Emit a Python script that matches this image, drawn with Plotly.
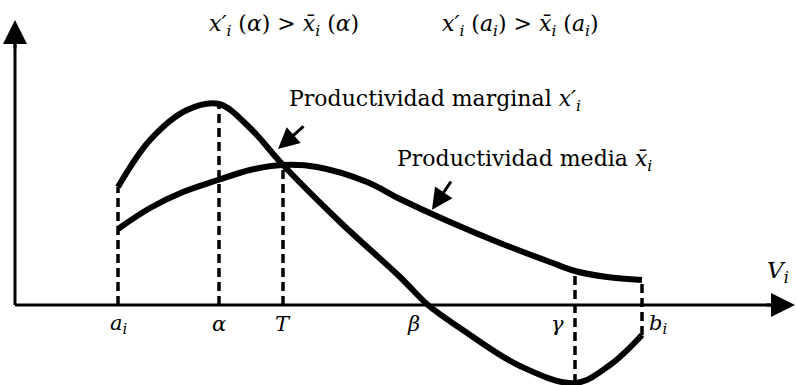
import numpy as np
import plotly.graph_objects as go

# Positions along the V_i axis
tick_names = ["a_i", "alpha", "T", "beta", "gamma", "b_i"]
tick_vals = [10.3, 20.4, 26.8, 41.3, 56.0, 62.7]

# Marginal productivity x'_i
marg_x = [10.3, 13.5, 17.2, 20.4, 23.5, 26.8, 32.5, 38.5, 41.3, 44.5,
          50.5, 56.0, 59.5, 62.7]
marg_y = [11.8, 16.5, 19.5, 20.1, 17.7, 14.0, 8.3, 2.8, 0.0, -2.3,
          -6.1, -7.8, -6.0, -3.0]

# Average productivity x̄_i
avg_x = [10.3, 13.5, 16.8, 20.3, 23.5, 26.8, 30.2, 35.2, 38.5, 43.5,
         48.5, 53.5, 56.0, 59.2, 62.7]
avg_y = [7.6, 9.7, 11.3, 12.5, 13.5, 14.0, 13.8, 12.3, 10.6, 8.3,
         6.2, 4.3, 3.4, 2.8, 2.5]

x_max, y_max = 78.0, 28.5

SERIF = "DejaVu Serif"
BLACK = "black"

fig = go.Figure()

for xs, ys in ((marg_x, marg_y), (avg_x, avg_y)):
    fig.add_trace(go.Scatter(x=xs, y=ys, mode="lines",
                             line=dict(color=BLACK, width=6, shape="spline", smoothing=1.0),
                             hoverinfo="skip", showlegend=False))


def marg(v):
    return float(np.interp(v, marg_x, marg_y))


def avg(v):
    return float(np.interp(v, avg_x, avg_y))


a_i, alpha, T, beta, gamma, b_i = tick_vals

# Dashed guide lines
guides = [
    (a_i, 0.0, marg(a_i)),
    (alpha, 0.0, marg(alpha)),
    (T, 0.0, marg(T)),
    (gamma, marg(gamma), avg(gamma)),
    (b_i, marg(b_i), avg(b_i)),
]
for gx, y0, y1 in guides:
    fig.add_shape(type="line", x0=gx, x1=gx, y0=y0, y1=y1, xref="x", yref="y",
                  line=dict(color=BLACK, width=3.5, dash="9px,5px"))

# Coordinate axes with arrows
fig.add_shape(type="line", x0=0, x1=x_max - 1.0, y0=0, y1=0, xref="x", yref="y",
              line=dict(color=BLACK, width=3))
fig.add_shape(type="line", x0=0, x1=0, y0=0, y1=y_max - 1.0, xref="x", yref="y",
              line=dict(color=BLACK, width=3))
fig.add_annotation(x=x_max, y=0, ax=x_max - 3, ay=0, xref="x", yref="y",
                   axref="x", ayref="y", text="", showarrow=True,
                   arrowhead=2, arrowsize=1.6, arrowwidth=3, arrowcolor=BLACK)
fig.add_annotation(x=0, y=y_max, ax=0, ay=y_max - 3, xref="x", yref="y",
                   axref="x", ayref="y", text="", showarrow=True,
                   arrowhead=2, arrowsize=1.6, arrowwidth=3, arrowcolor=BLACK)

# Pointer arrows to the curves
fig.add_annotation(x=26.3, y=15.6, ax=29.0, ay=18.0, xref="x", yref="y",
                   axref="x", ayref="y", text="", showarrow=True,
                   arrowhead=2, arrowsize=1.4, arrowwidth=3, arrowcolor=BLACK)
fig.add_annotation(x=41.7, y=avg(41.7) + 0.4, ax=43.7, ay=12.5, xref="x", yref="y",
                   axref="x", ayref="y", text="", showarrow=True,
                   arrowhead=2, arrowsize=1.4, arrowwidth=3, arrowcolor=BLACK)

font = dict(family=SERIF, size=22, color=BLACK)

# Curve labels
fig.add_annotation(x=27.2, y=20.5, xref="x", yref="y", xanchor="left", yanchor="middle",
                   text="Productividad marginal <i>x′<sub>i</sub></i>",
                   showarrow=False, font=font)
fig.add_annotation(x=38.0, y=14.5, xref="x", yref="y", xanchor="left", yanchor="middle",
                   text="Productividad media <i>x̄<sub>i</sub></i>",
                   showarrow=False, font=font)

# Inequalities at the top
fig.add_annotation(x=19.2, y=28.0, xref="x", yref="y", xanchor="left", yanchor="middle",
                   text="<i>x′<sub>i</sub></i> (<i>α</i>) > <i>x̄<sub>i</sub></i> (<i>α</i>)",
                   showarrow=False, font=font)
fig.add_annotation(x=42.5, y=28.0, xref="x", yref="y", xanchor="left", yanchor="middle",
                   text="<i>x′<sub>i</sub></i> (<i>a<sub>i</sub></i>) > <i>x̄<sub>i</sub></i> (<i>a<sub>i</sub></i>)",
                   showarrow=False, font=font)

# Axis point labels
tick_text = ["<i>a<sub>i</sub></i>", "<i>α</i>", "<i>T</i>", "<i>β</i>", "<i>γ</i>", "<i>b<sub>i</sub></i>"]
tick_shift = [0, 0, 0, -15, -18, 16]
for tv, tt, sh in zip(tick_vals, tick_text, tick_shift):
    fig.add_annotation(x=tv, y=0, xref="x", yref="y", xshift=sh, yshift=-19,
                       yanchor="middle", text=tt, showarrow=False,
                       font=dict(family=SERIF, size=21, color=BLACK))
fig.add_annotation(x=76.3, y=3.3, xref="x", yref="y", yanchor="middle",
                   text="<i>V<sub>i</sub></i>", showarrow=False,
                   font=dict(family=SERIF, size=23, color=BLACK))

fig.update_layout(
    width=796, height=385,
    margin=dict(l=0, r=0, t=0, b=0),
    paper_bgcolor="white", plot_bgcolor="white",
    xaxis=dict(range=[-1.5, 78.1], visible=False, fixedrange=True),
    yaxis=dict(range=[-8.0, 30.5], visible=False, fixedrange=True),
    showlegend=False,
)

fig.write_html("out.html")
